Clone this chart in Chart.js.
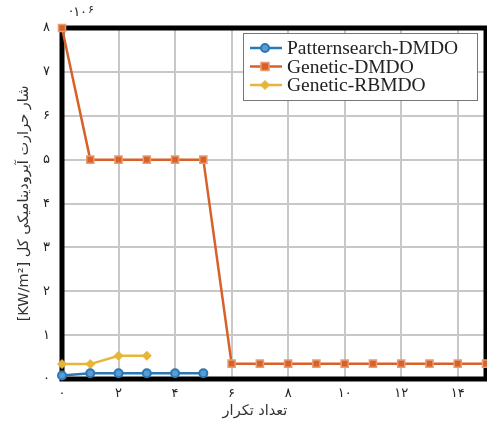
<!DOCTYPE html>
<html>
<head>
<meta charset="utf-8">
<script src="https://cdn.jsdelivr.net/npm/chart.js@4"></script>
<style>
  html, body { margin: 0; padding: 0; background: #fff; }
  #wrap { width: 487px; height: 427px; }
</style>
</head>
<body>
<div id="wrap"><canvas id="chart"></canvas></div>
<script>
// data (heat flux in units of 10^6)
var patternX = [0, 1, 2, 3, 4, 5];
var patternY = [0.08, 0.13, 0.13, 0.13, 0.13, 0.13];
var geneticX = [0, 1, 2, 3, 4, 5, 6, 7, 8, 9, 10, 11, 12, 13, 14, 15];
var geneticY = [8, 5, 5, 5, 5, 5, 0.35, 0.35, 0.35, 0.35, 0.35, 0.35, 0.35, 0.35, 0.35, 0.35];
var rbmdoX = [0, 1, 2, 3];
var rbmdoY = [0.34, 0.34, 0.53, 0.53];
var seriesNames = ["Patternsearch-DMDO", "Genetic-DMDO", "Genetic-RBMDO"];
var xTicks = [0, 2, 4, 6, 8, 10, 12, 14];
var yTicks = [0, 1, 2, 3, 4, 5, 6, 7, 8];
var xTitle = "تعداد تکرار";

var blue = "#2b78b6", orange = "#d8612a", yellow = "#e6b53a";

function toPersian(n){
  return String(n).replace(/[0-9]/g, function(d){ return "۰۱۲۳۴۵۶۷۸۹"[d]; });
}
function pts(xs, ys){ return xs.map(function(x, i){ return {x: x, y: ys[i]}; }); }

// thick frame, legend box, x title and the x10^6 mark
var framePlugin = {
  id: "frame",
  // the original plot runs right up to the image edge; stretch the x scale out to it
  afterLayout: function(chart){
    var xs = chart.scales.x, a = chart.chartArea;
    var r = chart.width - 1;
    xs.right = r;
    xs.width = r - xs.left;
    xs.configure();
    a.right = r;
    a.width = r - a.left;
  },
  beforeDatasetsDraw: function(chart){
    var a = chart.chartArea, ctx = chart.ctx;
    ctx.save();
    ctx.strokeStyle = "#000";
    ctx.lineWidth = 5;
    ctx.strokeRect(a.left, a.top, a.right - a.left, a.bottom - a.top);
    ctx.restore();
  },
  afterDraw: function(chart){
    var a = chart.chartArea, ctx = chart.ctx;
    ctx.save();
    // exponent
    ctx.fillStyle = "#222";
    ctx.font = "13px 'DejaVu Sans'";
    ctx.textBaseline = "alphabetic";
    var w = ctx.measureText("·۱۰").width;
    ctx.fillText("·۱۰", a.left + 7, a.top - 12);
    ctx.font = "11px 'DejaVu Sans'";
    ctx.fillText("۶", a.left + 8 + w, a.top - 15);

    // x title (sits a bit left of the plot centre in the original)
    ctx.font = "14.5px 'DejaVu Sans'";
    ctx.fillStyle = "#333";
    ctx.textAlign = "center";
    ctx.textBaseline = "middle";
    ctx.fillText(xTitle, 255, 411);
    ctx.textAlign = "left";

    // legend
    var bx = 243, by = 33, bw = 234, bh = 67;
    ctx.fillStyle = "#fff";
    ctx.fillRect(bx, by, bw, bh);
    ctx.strokeStyle = "#777";
    ctx.lineWidth = 1;
    ctx.strokeRect(bx + 0.5, by + 0.5, bw, bh);
    var ds = chart.data.datasets;
    ctx.font = "19.5px 'Liberation Serif'";
    ctx.textBaseline = "middle";
    for (var i = 0; i < ds.length; i++) {
      var y = by + 15 + i * 18.5;
      var mx = bx + 22;
      ctx.strokeStyle = ds[i].borderColor;
      ctx.lineWidth = 2.5;
      ctx.beginPath();
      ctx.moveTo(bx + 7, y);
      ctx.lineTo(bx + 39, y);
      ctx.stroke();
      ctx.fillStyle = ds[i].pointBackgroundColor;
      ctx.strokeStyle = ds[i].pointBorderColor;
      ctx.lineWidth = ds[i].pointBorderWidth;
      ctx.beginPath();
      if (ds[i].pointStyle === "circle") {
        ctx.arc(mx, y, ds[i].pointRadius, 0, Math.PI * 2);
      } else if (ds[i].pointStyle === "rect") {
        ctx.rect(mx - 4, y - 4, 8, 8);
      } else {
        var r = ds[i].pointRadius;
        ctx.moveTo(mx, y - r); ctx.lineTo(mx + r, y);
        ctx.lineTo(mx, y + r); ctx.lineTo(mx - r, y); ctx.closePath();
      }
      ctx.fill();
      ctx.stroke();
      ctx.fillStyle = "#222";
      ctx.fillText(ds[i].label, bx + 44, y + 1);
    }
    ctx.restore();
  }
};

var ctx = document.getElementById("chart").getContext("2d");
window.chart = new Chart(ctx, {
  type: "line",
  data: {
    datasets: [
      {
        label: seriesNames[0],
        data: pts(patternX, patternY),
        borderColor: blue,
        borderWidth: 2.5,
        pointStyle: "circle",
        pointRadius: 4,
        pointBorderWidth: 2,
        pointBackgroundColor: "#5a9bd0",
        pointBorderColor: blue,
        clip: false
      },
      {
        label: seriesNames[1],
        data: pts(geneticX, geneticY),
        borderColor: orange,
        borderWidth: 2.5,
        pointStyle: "rect",
        pointRadius: 5,
        pointBorderWidth: 1.5,
        pointBackgroundColor: orange,
        pointBorderColor: "#e99a6e",
        clip: false
      },
      {
        label: seriesNames[2],
        data: pts(rbmdoX, rbmdoY),
        borderColor: yellow,
        borderWidth: 2.5,
        pointStyle: "rectRot",
        pointRadius: 4.5,
        pointBorderWidth: 1,
        pointBackgroundColor: yellow,
        pointBorderColor: yellow,
        clip: false
      }
    ]
  },
  options: {
    responsive: true,
    maintainAspectRatio: false,
    animation: false,
    layout: { padding: { top: 28, right: 0, left: 0, bottom: 0 } },
    plugins: { legend: { display: false }, tooltip: { enabled: false } },
    elements: { line: { tension: 0 } },
    scales: {
      x: {
        type: "linear",
        min: 0,
        max: 15,
        afterBuildTicks: function(axis){ axis.ticks = xTicks.map(function(v){ return {value: v}; }); },
        afterFit: function(axis){ axis.height = 48; },
        grid: { color: "#c8c8c8", lineWidth: 2, drawTicks: false },
        border: { display: false },
        ticks: {
          color: "#222",
          padding: 7,
          font: { family: "DejaVu Sans", size: 13 },
          callback: function(v){ return toPersian(v); }
        },
        title: { display: false }
      },
      y: {
        min: 0,
        max: 8,
        afterBuildTicks: function(axis){ axis.ticks = yTicks.map(function(v){ return {value: v}; }); },
        afterFit: function(axis){ axis.width = 62; },
        grid: { color: "#c8c8c8", lineWidth: 2, drawTicks: false },
        border: { display: false },
        ticks: {
          color: "#222",
          padding: 12,
          font: { family: "DejaVu Sans", size: 13 },
          callback: function(v){ return toPersian(v); }
        },
        title: {
          display: true,
          text: "[KW/m²] شار حرارت آیرودینامیکی کل",
          color: "#333",
          padding: { top: 16, bottom: 0 },
          font: { family: "DejaVu Sans", size: 14.5 }
        }
      }
    }
  },
  plugins: [framePlugin]
});
</script>
</body>
</html>
